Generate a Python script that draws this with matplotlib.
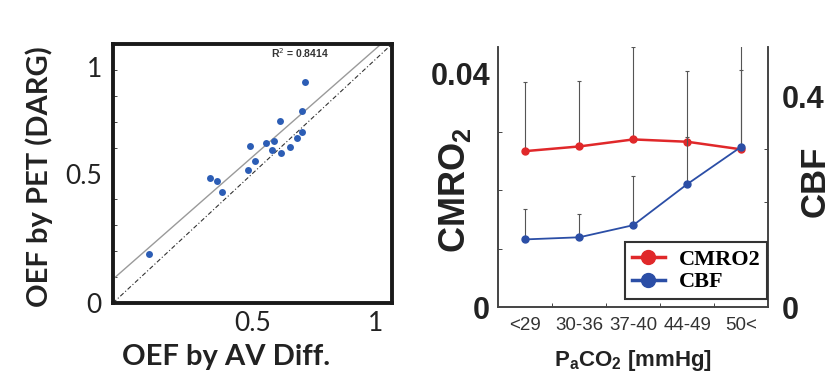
import matplotlib
matplotlib.use("Agg")
import matplotlib.pyplot as plt
import numpy as np
from matplotlib.lines import Line2D

# ---------------- data: left panel ----------------
oef_av = [0.129, 0.347, 0.372, 0.392, 0.485, 0.491, 0.510, 0.547, 0.569, 0.577,
          0.597, 0.601, 0.636, 0.661, 0.676, 0.677, 0.689]
oef_pet = [0.190, 0.482, 0.472, 0.428, 0.512, 0.605, 0.549, 0.617, 0.589, 0.625,
           0.704, 0.581, 0.603, 0.638, 0.660, 0.740, 0.852]
fit_intercept = 0.092
fit_slope = 0.945
r2_text = "R$^2$ = 0.8414"
left_xtick_pos = [0.5, 0.94]
left_xtick_lab = ["0.5", "1"]
left_ytick_pos = [0.0, 0.5, 0.91]
left_ytick_lab = ["0", "0.5", "1"]

# ---------------- data: right panel ----------------
paco2_cats = ["<29", "30-36", "37-40", "44-49", "50<"]
cmro2 = [0.0267, 0.0275, 0.0287, 0.0283, 0.0270]
cmro2_err = [0.0118, 0.0112, 0.0158, 0.0121, 0.0135]
cbf = [0.129, 0.133, 0.156, 0.234, 0.305]
cbf_err = [0.057, 0.044, 0.094, 0.090, 0.200]

fig = plt.figure(figsize=(8.4, 3.73), dpi=100)
fig.patch.set_facecolor("white")

# ================= left panel =================
axL = fig.add_axes([0.1345, 0.1877, 0.3322, 0.6943])
axL.set_xlim(0, 1)
axL.set_ylim(0, 1)
xx = np.array([0.0, 1.0])
axL.plot(xx, xx, color="#333333", lw=0.8, linestyle=(0, (4, 2, 1, 2)), zorder=2)
axL.plot(xx, fit_intercept + fit_slope * xx, color="#9a9a9a", lw=1.0, zorder=2)
axL.plot(oef_av, oef_pet, "o", color="#2c5db5", ms=5, mec="none", zorder=3)
axL.text(0.67, 0.965, r2_text, transform=axL.transAxes, ha="center", va="center",
         fontsize=7.5, fontweight="bold", color="#333333", family="Liberation Sans")
for s in axL.spines.values():
    s.set_linewidth(2.8)
    s.set_color("#1a1a1a")
axL.set_xticks(left_xtick_pos)
axL.set_xticklabels(left_xtick_lab)
axL.set_yticks(left_ytick_pos)
axL.set_yticklabels(left_ytick_lab)
axL.set_yticks(np.arange(0.1, 1.0, 0.1), minor=True)
axL.tick_params(axis="both", which="major", length=0, labelsize=19, colors="#222222", pad=8)
axL.tick_params(axis="x", which="major", pad=6)
axL.tick_params(axis="y", which="minor", direction="in", length=3, width=0.7, color="#444444")
axL.tick_params(axis="x", which="minor", length=0)
for lab in axL.get_xticklabels() + axL.get_yticklabels():
    lab.set_family("Lato")
axL.set_xlabel("OEF by AV Diff.", fontsize=21, fontweight="bold", family="Lato",
               color="#222222")
axL.set_ylabel("OEF by PET (DARG)", fontsize=21, fontweight="bold", family="Lato",
               color="#222222")
axL.xaxis.set_label_coords(0.405, -0.158)
axL.yaxis.set_label_coords(-0.215, 0.488)

# ================= right panel =================
axR = fig.add_axes([0.5932, 0.1761, 0.3214, 0.6987])
xpos = np.arange(len(paco2_cats))
axR.set_xlim(-0.5, len(paco2_cats) - 0.5)
axR.set_ylim(0, 0.04455)
axR2 = axR.twinx()
axR2.set_ylim(0, 0.495)

axR.errorbar(xpos, cmro2, yerr=[np.zeros(len(cmro2)), cmro2_err], fmt="none",
             ecolor="#555555", elinewidth=0.8, capsize=1.5, capthick=0.8, zorder=1)
axR2.errorbar(xpos, cbf, yerr=[np.zeros(len(cbf)), cbf_err], fmt="none",
              ecolor="#555555", elinewidth=0.8, capsize=1.5, capthick=0.8, zorder=1)
axR.plot(xpos, cmro2, "-o", color="#e0282a", lw=1.8, ms=5, zorder=3)
axR2.plot(xpos, cbf, "-o", color="#2b4ea6", lw=1.3, ms=5, zorder=3)

for a in (axR, axR2):
    a.spines["top"].set_visible(False)
    for k in ("left", "right", "bottom"):
        a.spines[k].set_linewidth(1.2)
        a.spines[k].set_color("#444444")
    a.patch.set_visible(False)

axR.set_yticks([0, 0.04])
axR.set_yticklabels(["0", "0.04"])
axR.set_yticks([0.01, 0.02, 0.03], minor=True)
axR.tick_params(axis="y", which="major", length=0, labelsize=22, pad=6)
axR.tick_params(axis="y", which="minor", direction="in", length=3, width=0.7, color="#444444")
axR2.set_yticks([0, 0.4])
axR2.set_yticklabels(["0", "0.4"])
axR2.set_yticks([0.1, 0.2, 0.3], minor=True)
axR2.tick_params(axis="y", which="major", length=0, labelsize=22, pad=10)
axR2.tick_params(axis="y", which="minor", direction="in", length=3, width=0.7, color="#444444")
for lab in axR.get_yticklabels() + axR2.get_yticklabels():
    lab.set_fontweight("bold")
    lab.set_family("Liberation Sans")
    lab.set_color("#222222")

axR.set_xticks(xpos)
axR.set_xticklabels(paco2_cats)
axR.set_xticks(xpos[:-1] + 0.5, minor=True)
axR.tick_params(axis="x", which="major", length=0, labelsize=13.5, colors="#333333", pad=7)
axR.tick_params(axis="x", which="minor", direction="in", length=3, width=0.7, color="#444444")
for lab in axR.get_xticklabels():
    lab.set_family("Liberation Sans")

axR.set_xlabel("P$_\\mathregular{a}$CO$_\\mathregular{2}$ [mmHg]", fontsize=16,
               fontweight="bold", family="Liberation Sans", color="#222222", labelpad=10)
axR.set_ylabel("CMRO$_\\mathregular{2}$", fontsize=26, fontweight="bold",
               family="Liberation Sans", color="#222222")
axR2.set_ylabel("CBF", fontsize=25, fontweight="bold", family="Liberation Sans",
                color="#222222")
axR.yaxis.set_label_coords(-0.095, 0.45)
axR2.yaxis.set_label_coords(1.112, 0.482)

handles = [Line2D([0], [0], color="#e0282a", lw=2.5, marker="o", ms=10),
           Line2D([0], [0], color="#2b4ea6", lw=2.5, marker="o", ms=10)]
leg = axR2.legend(handles, ["CMRO2", "CBF"], loc="lower right",
                  bbox_to_anchor=(0.995, 0.032), borderaxespad=0, fancybox=False,
                  framealpha=1, edgecolor="#333333", handlelength=1.5, borderpad=0.3,
                  labelspacing=0.1, handletextpad=0.6,
                  prop={"family": "Liberation Serif", "weight": "bold", "size": 16})
leg.get_frame().set_linewidth(1.5)

fig.savefig("out.png", dpi=100)
